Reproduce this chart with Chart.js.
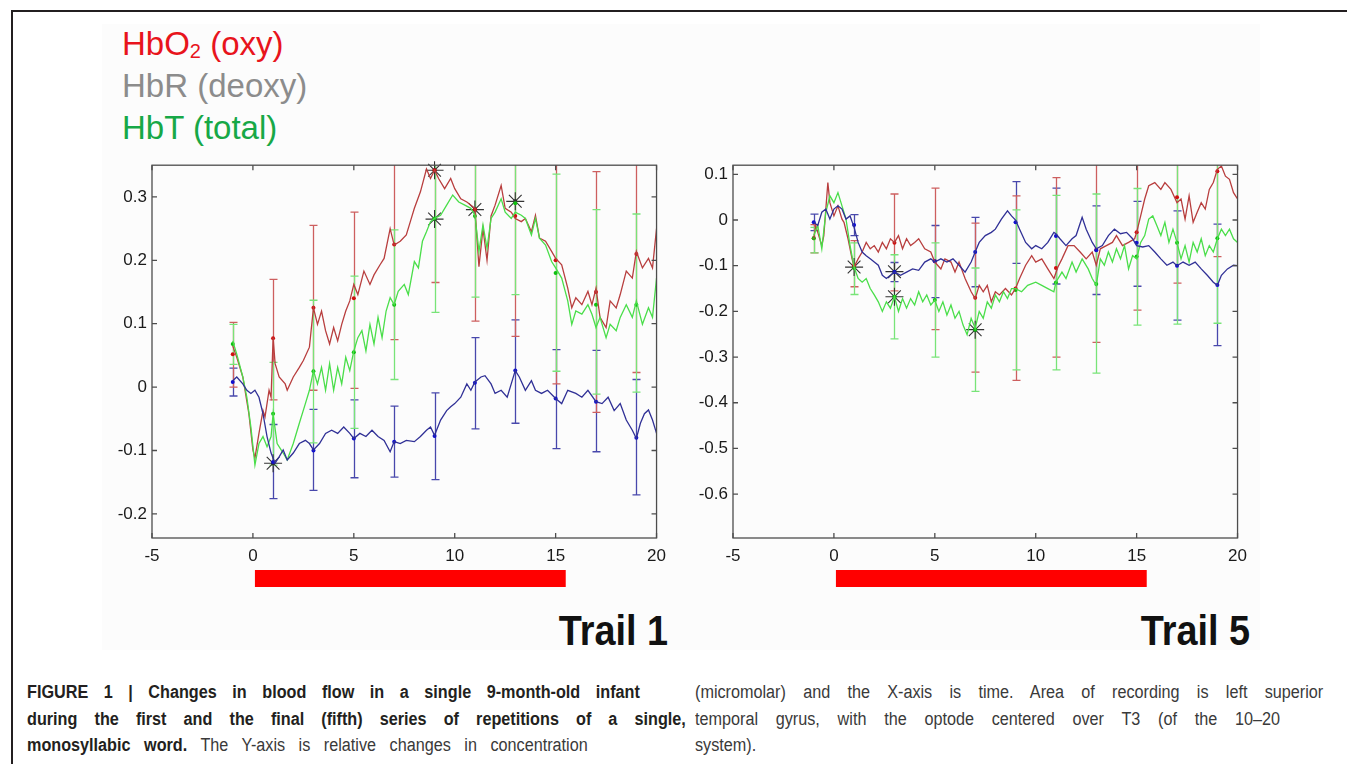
<!DOCTYPE html>
<html>
<head>
<meta charset="UTF-8">
<title>Blood flow changes - Trail 1 / Trail 5</title>
<script src="https://cdn.jsdelivr.net/npm/chart.js"></script>
<style>
    body { margin: 0; width: 1347px; height: 764px; background: #fff; position: relative; overflow: hidden;
           font-family: "Liberation Sans", Arial, sans-serif; }
    .frame-top { position: absolute; left: 11px; top: 10px; right: 0; height: 2px; background: #231f20; }
    .frame-left { position: absolute; left: 11px; top: 10px; width: 2px; bottom: 0; background: #231f20; }
    .panel { position: absolute; left: 102px; top: 24px; width: 1158px; height: 626px; background: #fcfcfc; }
    .legend { position: absolute; left: 122px; top: 23px; font-size: 33px; line-height: 42px; }
    .legend sub { font-size: 20px; line-height: 0; vertical-align: -3px; }
    .trail { position: absolute; top: 610px; font-weight: bold; font-size: 42px; line-height: 42px; color: #111;
             text-align: right; width: 200px; transform: scaleX(0.9); transform-origin: right center; }
    canvas { position: absolute; top: 150px; }
    .cap { position: absolute; font-size: 18px; line-height: 20px; color: #3a3a3a; white-space: nowrap;
           transform: scaleX(0.9); transform-origin: left center; }
    .cap.j { text-align: justify; text-align-last: justify; white-space: normal; }
    .cap b { color: #231f20; }
</style>
</head>
<body>
<div class="frame-top"></div>
<div class="frame-left"></div>
<div class="panel"></div>

<div class="legend">
    <div style="color:#e8141c">HbO<sub>2</sub> (oxy)</div>
    <div style="color:#8c8c8c">HbR (deoxy)</div>
    <div style="color:#17a847">HbT (total)</div>
</div>

<canvas id="trail1" width="578" height="450" style="left:96px"></canvas>
<canvas id="trail5" width="578" height="450" style="left:677px"></canvas>

<div class="trail" style="left:468px">Trail 1</div>
<div class="trail" style="left:1050px">Trail 5</div>

<div class="cap j" style="left:27px; top:682px; width:681px"><b>FIGURE 1 | Changes in blood flow in a single 9-month-old infant</b></div>
<div class="cap j" style="left:27px; top:709px; width:732px"><b>during the first and the final (fifth) series of repetitions of a single,</b></div>
<div class="cap j" style="left:27px; top:735px; width:623px"><b>monosyllabic word.</b> The Y-axis is relative changes in concentration</div>
<div class="cap j" style="left:695px; top:682px; width:698px">(micromolar) and the X-axis is time. Area of recording is left superior</div>
<div class="cap j" style="left:695px; top:709px; width:650px">temporal gyrus, with the optode centered over T3 (of the 10–20</div>
<div class="cap" style="left:695px; top:735px">system).</div>

<script>
    // ---- axes ----
    const xTicks = [-5, 0, 5, 10, 15, 20];
    const yTicks1 = [-0.2, -0.1, 0, 0.1, 0.2, 0.3];
    const yTicks5 = [-0.6, -0.5, -0.4, -0.3, -0.2, -0.1, 0, 0.1];
    const stimulus = [0.1, 15.5];   // seconds, red bar under the axis

    // ---- Trail 1 traces ----
    const t1Oxy = [-1,-0.8,-0.5,-0.2,0,0.1,0.3,0.5,0.6,0.8,0.9,1,1.1,1.3,1.6,1.7,2,2.3,2.5,2.8,3,3.2,3.4,3.6,3.8,4,4.2,4.4,4.6,4.8,5,5.2,5.5,5.8,6,6.3,6.5,6.8,7,7.3,7.6,7.8,8,8.3,8.6,8.8,9,9.2,9.5,9.8,10,10.3,10.6,11,11.2,11.4,11.6,11.8,12,12.3,12.5,12.8,13,13.3,13.5,13.8,14,14.2,14.5,14.8,15,15.3,15.6,15.8,16,16.3,16.6,16.8,17,17.2,17.5,17.7,18,18.2,18.5,18.8,19,19.3,19.6,19.8,20];
    const oxy1 = [0.065,0.047,0.016,-0.042,-0.099,-0.112,-0.073,-0.037,-0.047,-0.005,-0.016,0.078,0.037,0.016,0.005,-0.005,0.016,0.031,0.042,0.063,0.125,0.099,0.12,0.089,0.068,0.094,0.073,0.099,0.12,0.136,0.162,0.146,0.183,0.162,0.177,0.193,0.203,0.25,0.224,0.23,0.24,0.261,0.282,0.308,0.344,0.329,0.342,0.329,0.313,0.329,0.313,0.297,0.292,0.282,0.19,0.25,0.2,0.27,0.287,0.318,0.282,0.276,0.266,0.261,0.266,0.245,0.271,0.235,0.23,0.214,0.203,0.193,0.156,0.125,0.141,0.13,0.151,0.13,0.156,0.11,0.094,0.136,0.125,0.146,0.183,0.172,0.214,0.188,0.203,0.188,0.25];

    const t1Tot = [-1,-0.8,-0.5,-0.3,-0.1,0.1,0.3,0.5,0.7,0.9,1,1.2,1.5,1.7,2,2.3,2.6,2.8,3,3.2,3.4,3.6,3.8,4,4.2,4.4,4.6,4.8,5,5.2,5.4,5.6,5.8,6,6.2,6.4,6.6,6.8,7,7.2,7.5,7.7,8,8.2,8.4,8.6,8.8,9,9.3,9.6,9.9,10.2,10.5,10.8,11,11.2,11.4,11.6,11.8,12,12.3,12.5,12.8,13,13.3,13.5,13.8,14,14.2,14.5,14.8,15,15.3,15.6,15.8,16,16.3,16.6,16.8,17,17.2,17.5,17.7,18,18.2,18.5,18.8,19,19.3,19.6,19.8,20];
    const tot1 = [0.073,0.052,0.016,-0.016,-0.063,-0.123,-0.089,-0.078,-0.094,-0.078,-0.042,-0.089,-0.104,-0.115,-0.089,-0.057,-0.026,-0.005,0.026,0.005,0.031,-0.005,0.037,-0.005,0.031,0.005,0.047,0.026,0.057,0.078,0.089,0.057,0.099,0.068,0.11,0.078,0.12,0.141,0.13,0.151,0.162,0.146,0.198,0.188,0.23,0.245,0.261,0.266,0.271,0.287,0.303,0.292,0.287,0.282,0.271,0.214,0.256,0.219,0.266,0.276,0.297,0.276,0.266,0.276,0.271,0.266,0.24,0.266,0.235,0.224,0.198,0.188,0.172,0.136,0.099,0.12,0.115,0.13,0.115,0.094,0.11,0.078,0.099,0.089,0.11,0.13,0.11,0.136,0.099,0.125,0.11,0.172];

    const t1Deoxy = [-1,-0.8,-0.5,-0.3,-0.1,0.1,0.3,0.5,0.7,0.9,1.1,1.3,1.5,1.7,2,2.3,2.6,2.8,3,3.3,3.6,3.9,4.2,4.5,4.8,5,5.3,5.6,5.9,6.2,6.5,6.8,7,7.3,7.6,8,8.3,8.6,8.8,9,9.3,9.6,9.8,10,10.3,10.6,10.8,11,11.3,11.5,11.8,12,12.3,12.6,12.8,13,13.2,13.5,13.8,14,14.3,14.6,15,15.3,15.6,16,16.3,16.6,17,17.3,17.6,17.9,18.2,18.5,18.8,19,19.2,19.4,19.6,19.8,20];
    const deoxy1 = [0.01,0.016,0.005,-0.005,-0.01,-0.005,-0.016,-0.042,-0.078,-0.104,-0.12,-0.11,-0.099,-0.115,-0.104,-0.089,-0.084,-0.089,-0.099,-0.089,-0.073,-0.068,-0.073,-0.063,-0.073,-0.081,-0.073,-0.078,-0.068,-0.078,-0.084,-0.102,-0.086,-0.089,-0.084,-0.086,-0.078,-0.068,-0.063,-0.076,-0.052,-0.037,-0.031,-0.026,-0.016,0.005,-0.005,0.008,0.016,0.018,0.005,-0.01,-0.005,-0.016,0.005,0.026,0.016,-0.005,0.01,-0.005,-0.01,-0.005,-0.018,-0.026,-0.005,-0.01,-0.016,-0.005,-0.023,-0.026,-0.016,-0.037,-0.026,-0.052,-0.068,-0.081,-0.057,-0.042,-0.036,-0.052,-0.073];

    // ---- Trail 5 traces ----
    const t5Oxy = [-1,-0.9,-0.8,-0.6,-0.5,-0.3,-0.2,0,0.2,0.4,0.5,0.7,0.9,1,1.2,1.4,1.6,1.8,2,2.2,2.4,2.6,2.8,3,3.2,3.4,3.6,3.8,4,4.2,4.5,4.8,5,5.3,5.5,5.8,6,6.2,6.5,6.8,7,7.2,7.4,7.6,7.8,8,8.2,8.5,8.8,9,9.2,9.5,9.8,10,10.3,10.6,10.9,11.1,11.3,11.6,11.9,12.2,12.5,12.8,13,13.2,13.5,13.8,14,14.3,14.6,14.9,15,15.2,15.4,15.6,15.9,16.2,16.4,16.7,17,17.2,17.4,17.6,17.8,18,18.2,18.4,18.6,18.8,19,19.2,19.4,19.6,19.8,20];
    const oxy5 = [-0.041,-0.012,-0.027,-0.056,-0.034,0.082,0.038,0.009,0.031,0.002,-0.005,-0.041,-0.085,-0.103,-0.085,-0.07,-0.049,-0.063,-0.056,-0.07,-0.049,-0.063,-0.041,-0.049,-0.034,-0.063,-0.041,-0.056,-0.049,-0.041,-0.063,-0.07,-0.092,-0.107,-0.085,-0.092,-0.114,-0.092,-0.128,-0.157,-0.172,-0.143,-0.157,-0.143,-0.179,-0.157,-0.164,-0.15,-0.164,-0.15,-0.128,-0.099,-0.078,-0.092,-0.085,-0.107,-0.128,-0.103,-0.085,-0.056,-0.056,-0.07,-0.085,-0.07,-0.099,-0.063,-0.056,-0.049,-0.034,-0.056,-0.049,-0.041,-0.027,0.009,0.046,0.075,0.082,0.067,0.082,0.067,0.038,0.046,0.002,0.053,-0.005,0.017,0.038,0.024,0.067,0.082,0.111,0.118,0.096,0.089,0.06,0.046];

    const t5Tot = [-1,-0.8,-0.6,-0.4,-0.2,0,0.2,0.4,0.6,0.8,1,1.2,1.4,1.6,1.8,2,2.2,2.4,2.6,2.8,3,3.2,3.4,3.6,3.8,4,4.2,4.4,4.6,4.8,5,5.2,5.4,5.6,5.8,6,6.2,6.4,6.6,6.8,7,7.2,7.4,7.6,7.8,8,8.2,8.4,8.6,8.8,9,9.3,9.6,10,10.3,10.6,10.9,11,11.3,11.5,11.8,12,12.3,12.6,12.8,13,13.2,13.4,13.6,13.8,14,14.2,14.4,14.6,14.8,15,15.2,15.4,15.6,15.8,16,16.2,16.4,16.6,16.8,17,17.2,17.4,17.6,17.8,18,18.2,18.4,18.6,18.8,19,19.2,19.4,19.6,19.8,20];
    const tot5 = [-0.034,-0.012,-0.063,0.017,0.053,0.038,0.06,0.031,0.002,-0.056,-0.103,-0.128,-0.136,-0.128,-0.15,-0.164,-0.179,-0.2,-0.179,-0.193,-0.168,-0.2,-0.172,-0.193,-0.172,-0.186,-0.157,-0.179,-0.164,-0.186,-0.175,-0.2,-0.179,-0.208,-0.186,-0.215,-0.2,-0.23,-0.251,-0.215,-0.237,-0.2,-0.215,-0.179,-0.193,-0.164,-0.179,-0.157,-0.172,-0.15,-0.15,-0.157,-0.143,-0.136,-0.143,-0.15,-0.157,-0.136,-0.114,-0.128,-0.092,-0.114,-0.085,-0.107,-0.128,-0.143,-0.085,-0.099,-0.07,-0.092,-0.063,-0.085,-0.056,-0.107,-0.078,-0.085,-0.049,-0.034,0.002,0.009,-0.012,-0.034,-0.005,-0.049,-0.02,-0.049,-0.085,-0.056,-0.092,-0.049,-0.07,-0.041,-0.078,-0.056,-0.07,-0.041,-0.02,-0.034,-0.02,-0.041,-0.049];

    const t5Deoxy = [-1,-0.8,-0.6,-0.4,-0.2,0,0.2,0.4,0.6,0.8,1,1.2,1.4,1.6,1.8,2,2.2,2.4,2.6,2.8,3,3.3,3.6,3.9,4.2,4.5,4.8,5,5.3,5.6,5.9,6.2,6.5,6.8,7,7.2,7.5,7.8,8,8.3,8.6,8.8,9,9.2,9.5,9.8,10,10.3,10.6,10.9,11,11.2,11.5,11.8,12,12.3,12.5,12.8,13,13.3,13.6,13.9,14.2,14.5,14.8,15,15.3,15.6,15.9,16.2,16.5,16.8,17,17.3,17.6,17.9,18.2,18.5,18.8,19,19.2,19.5,19.8,20];
    const deoxy5 = [-0.005,-0.012,0.017,0.024,0.002,0.024,0.031,0.024,0.002,0.009,-0.016,-0.049,-0.07,-0.078,-0.085,-0.092,-0.099,-0.121,-0.128,-0.121,-0.114,-0.121,-0.114,-0.107,-0.11,-0.092,-0.085,-0.092,-0.085,-0.092,-0.085,-0.099,-0.114,-0.092,-0.07,-0.049,-0.034,-0.027,-0.02,0.002,0.02,0.009,0,-0.02,-0.049,-0.063,-0.056,-0.063,-0.049,-0.027,-0.03,-0.041,-0.056,-0.041,-0.034,0.006,-0.02,-0.049,-0.063,-0.056,-0.034,-0.02,-0.03,-0.027,-0.041,-0.056,-0.059,-0.056,-0.07,-0.085,-0.099,-0.092,-0.1,-0.092,-0.099,-0.092,-0.107,-0.121,-0.136,-0.143,-0.121,-0.107,-0.099,-0.1];

    // ---- error bars (mean, lower, upper) every 2 s ----
    const errT = [-1, 1, 3, 5, 7, 9, 11, 13, 15, 17, 19];

    const oxy1Mean = [0.052,0.077,0.125,0.14,0.225,0.342,0.28,0.27,0.2,0.15,0.21];
    const oxy1Lo = [0,-0.02,-0.005,-0.002,0.075,0.165,0.104,0.08,0.005,-0.04,0.023];
    const oxy1Hi = [0.102,0.17,0.255,0.276,0.375,0.52,0.456,0.46,0.395,0.34,0.4];
    const tot1Mean = [0.068,-0.042,0.025,0.055,0.13,0.266,0.27,0.29,0.18,0.13,0.13];
    const tot1Lo = [0.036,-0.123,-0.088,-0.065,0.012,0.118,0.142,0.146,0.025,-0.011,-0.008];
    const tot1Hi = [0.099,0.039,0.137,0.175,0.248,0.414,0.4,0.43,0.336,0.28,0.273];
    const deoxy1Mean = [0.008,-0.118,-0.1,-0.081,-0.086,-0.077,0.007,0.026,-0.018,-0.023,-0.08];
    const deoxy1Lo = [-0.014,-0.176,-0.163,-0.143,-0.142,-0.146,-0.066,-0.057,-0.097,-0.102,-0.17];
    const deoxy1Hi = [0.03,-0.059,-0.035,-0.02,-0.03,-0.009,0.078,0.106,0.059,0.058,0.012];

    const oxy5Mean = [-0.04,-0.1,-0.05,-0.09,-0.17,-0.15,-0.105,-0.065,-0.027,0.05,0.107];
    const oxy5Lo = [-0.072,-0.146,-0.155,-0.24,-0.333,-0.351,-0.3,-0.268,-0.197,-0.138,-0.08];
    const oxy5Hi = [-0.01,-0.045,0.057,0.07,-0.007,0.053,0.093,0.14,0.17,0.24,0.29];
    const tot5Mean = [-0.04,-0.105,-0.168,-0.175,-0.24,-0.153,-0.137,-0.14,-0.08,-0.05,-0.04];
    const tot5Lo = [-0.072,-0.163,-0.26,-0.3,-0.375,-0.328,-0.328,-0.335,-0.23,-0.228,-0.226];
    const tot5Hi = [-0.016,-0.05,-0.076,-0.05,-0.105,0.022,0.054,0.057,0.069,0.13,0.14];
    const deoxy5Mean = [-0.005,-0.011,-0.114,-0.09,-0.07,-0.005,-0.035,-0.066,-0.05,-0.1,-0.142];
    const deoxy5Lo = [-0.023,-0.034,-0.135,-0.17,-0.146,-0.095,-0.14,-0.163,-0.145,-0.219,-0.275];
    const deoxy5Hi = [0.013,0.012,-0.093,-0.012,0.006,0.084,0.07,0.031,0.041,0.02,-0.009];

    // ---- significant points (asterisks) ----
    const star1T = [1, 9, 9, 11, 13];
    const star1V = [-0.12, 0.342, 0.265, 0.28, 0.293];
    const star5T = [1, 3, 3, 7];
    const star5V = [-0.103, -0.113, -0.168, -0.24];

    const RED = 'rgb(184,62,62)', GREEN = 'rgb(74,222,74)', BLUE = 'rgb(48,48,150)';
    const RED_EB = 'rgb(205,95,95)', GREEN_EB = 'rgb(120,228,120)', BLUE_EB = 'rgb(72,72,172)';

    Chart.defaults.font.family = '"Liberation Sans", Arial, sans-serif';
    Chart.defaults.font.size = 17;
    Chart.defaults.color = '#1a1a1a';

    const pts = (t, v) => t.map((x, i) => ({ x: x, y: v[i] }));

    const errorBars = {
        id: 'errorBars',
        beforeDatasetsDraw(chart, args, opts) {
            const { ctx, chartArea: a, scales: { x, y } } = chart;
            ctx.save();
            ctx.beginPath();
            ctx.rect(a.left, a.top, a.right - a.left, a.bottom - a.top);
            ctx.clip();
            ctx.lineWidth = 1.3;
            for (const s of opts.sets) {
                ctx.strokeStyle = s.color;
                errT.forEach((t, i) => {
                    const px = Math.round(x.getPixelForValue(t)) + 0.5;
                    const lo = y.getPixelForValue(s.lo[i]);
                    const hi = y.getPixelForValue(s.hi[i]);
                    ctx.beginPath();
                    ctx.moveTo(px, lo); ctx.lineTo(px, hi);
                    ctx.moveTo(px - 4, lo); ctx.lineTo(px + 4, lo);
                    ctx.moveTo(px - 4, hi); ctx.lineTo(px + 4, hi);
                    ctx.stroke();
                });
            }
            ctx.restore();
        }
    };

    // matlab style box with inward ticks, plus stimulus bar under the x axis
    const matlabBox = {
        id: 'matlabBox',
        afterDraw(chart) {
            const { ctx, chartArea: a, scales: { x, y } } = chart;
            ctx.save();
            ctx.strokeStyle = '#4d4d4d';
            ctx.lineWidth = 1.3;
            ctx.strokeRect(a.left, a.top, a.right - a.left, a.bottom - a.top);
            ctx.beginPath();
            x.ticks.forEach(t => {
                const px = x.getPixelForValue(t.value);
                ctx.moveTo(px, a.bottom); ctx.lineTo(px, a.bottom - 5);
                ctx.moveTo(px, a.top); ctx.lineTo(px, a.top + 5);
            });
            y.ticks.forEach(t => {
                const py = y.getPixelForValue(t.value);
                ctx.moveTo(a.left, py); ctx.lineTo(a.left + 5, py);
                ctx.moveTo(a.right, py); ctx.lineTo(a.right - 5, py);
            });
            ctx.stroke();
            const x0 = x.getPixelForValue(stimulus[0]);
            const x1 = x.getPixelForValue(stimulus[1]);
            ctx.fillStyle = '#ff0000';
            ctx.fillRect(x0, a.bottom + 32, x1 - x0, 17);
            ctx.restore();
        }
    };

    function makeChart(id, d) {
        const line = (data, color) => ({
            data: data, borderColor: color, borderWidth: 1.3, pointRadius: 0, tension: 0, fill: false
        });
        const dots = (mean, color) => ({
            data: pts(errT, mean), showLine: false, pointRadius: 2, pointBorderWidth: 0,
            pointBackgroundColor: color
        });
        new Chart(document.getElementById(id), {
            type: 'line',
            data: {
                datasets: [
                    line(d.deoxy, BLUE),
                    line(d.tot, GREEN),
                    line(d.oxy, RED),
                    dots(d.deoxyMean, '#1010d0'),
                    dots(d.totMean, '#10c010'),
                    dots(d.oxyMean, '#d01010'),
                    {
                        data: d.stars, showLine: false, pointStyle: 'star', pointRadius: 9,
                        borderColor: '#333', pointBorderWidth: 1.1, clip: false
                    },
                    {
                        data: d.stars, showLine: false, pointRadius: 2, pointBorderWidth: 0,
                        pointBackgroundColor: '#000', clip: false
                    }
                ]
            },
            options: {
                responsive: false,
                animation: false,
                layout: { padding: { left: 0, right: 12, top: 14, bottom: 30 } },
                plugins: {
                    legend: { display: false },
                    tooltip: { enabled: false },
                    errorBars: {
                        sets: [
                            { lo: d.deoxyLo, hi: d.deoxyHi, color: BLUE_EB },
                            { lo: d.oxyLo, hi: d.oxyHi, color: RED_EB },
                            { lo: d.totLo, hi: d.totHi, color: GREEN_EB }
                        ]
                    }
                },
                scales: {
                    x: {
                        type: 'linear', min: -5, max: 20,
                        grid: { display: false, drawTicks: false },
                        border: { display: false },
                        afterBuildTicks: s => { s.ticks = xTicks.map(v => ({ value: v })); },
                        afterFit: s => { s.height = 32; },
                        ticks: { padding: 8, autoSkip: false, maxRotation: 0, callback: v => String(v) }
                    },
                    y: {
                        min: d.yMin, max: d.yMax,
                        grid: { display: false, drawTicks: false },
                        border: { display: false },
                        afterBuildTicks: s => { s.ticks = d.yTicks.map(v => ({ value: v })); },
                        afterFit: s => { s.width = 56; },
                        ticks: { padding: 5, autoSkip: false, callback: v => (v === 0 ? '0' : v.toFixed(1)) }
                    }
                }
            },
            plugins: [errorBars, matlabBox]
        });
    }

    makeChart('trail1', {
        oxy: pts(t1Oxy, oxy1), tot: pts(t1Tot, tot1), deoxy: pts(t1Deoxy, deoxy1),
        oxyMean: oxy1Mean, oxyLo: oxy1Lo, oxyHi: oxy1Hi,
        totMean: tot1Mean, totLo: tot1Lo, totHi: tot1Hi,
        deoxyMean: deoxy1Mean, deoxyLo: deoxy1Lo, deoxyHi: deoxy1Hi,
        stars: pts(star1T, star1V),
        yMin: -0.238, yMax: 0.35, yTicks: yTicks1
    });

    makeChart('trail5', {
        oxy: pts(t5Oxy, oxy5), tot: pts(t5Tot, tot5), deoxy: pts(t5Deoxy, deoxy5),
        oxyMean: oxy5Mean, oxyLo: oxy5Lo, oxyHi: oxy5Hi,
        totMean: tot5Mean, totLo: tot5Lo, totHi: tot5Hi,
        deoxyMean: deoxy5Mean, deoxyLo: deoxy5Lo, deoxyHi: deoxy5Hi,
        stars: pts(star5T, star5V),
        yMin: -0.696, yMax: 0.12, yTicks: yTicks5
    });
</script>
</body>
</html>
